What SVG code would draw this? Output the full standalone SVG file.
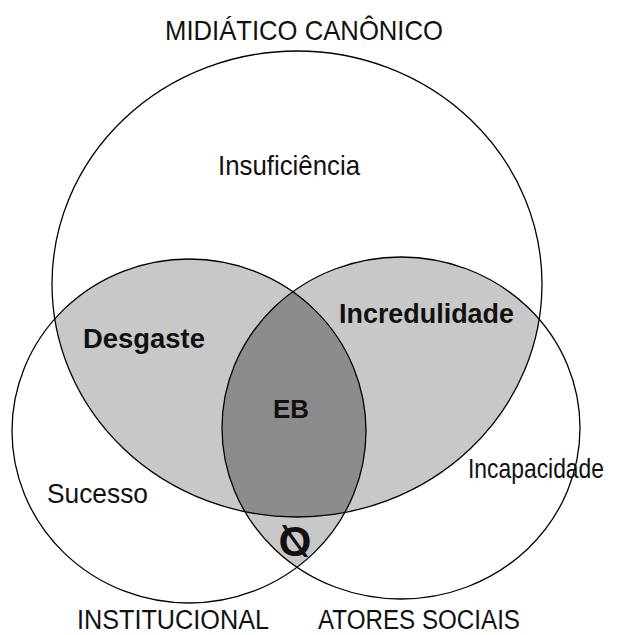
<svg xmlns="http://www.w3.org/2000/svg" width="634" height="635" viewBox="0 0 634 635">
<style>
.edge{fill:none;stroke:#000;stroke-width:1.3}
.light{fill:#c8c8c8}
.dark{fill:#8c8c8c}
.lbl{font-family:"Liberation Sans",Arial,sans-serif;font-size:28px;fill:#111}
.cap{font-size:27px}
.b{font-weight:bold;font-size:27px}
.eb{font-weight:bold;font-size:25px}
.empty{font-weight:bold;font-size:42px}
</style>
<defs>
<clipPath id="cTop"><ellipse cx="297" cy="284" rx="245" ry="233"/></clipPath>
<clipPath id="cLeft"><ellipse cx="189" cy="431" rx="177" ry="172"/></clipPath>
<clipPath id="cRight"><ellipse cx="401" cy="428" rx="179" ry="171"/></clipPath>
</defs>
<rect width="634" height="635" fill="#fff"/>
<g id="regions">
<ellipse class="light" cx="189" cy="431" rx="177" ry="172" clip-path="url(#cTop)"/>
<ellipse class="light" cx="401" cy="428" rx="179" ry="171" clip-path="url(#cTop)"/>
<ellipse class="light" cx="189" cy="431" rx="177" ry="172" clip-path="url(#cRight)"/>
<g clip-path="url(#cTop)"><ellipse class="dark" cx="189" cy="431" rx="177" ry="172" clip-path="url(#cRight)"/></g>
</g>
<g id="midiatico">
<ellipse class="edge" cx="297" cy="284" rx="245" ry="233"/>
<text class="lbl" x="165" y="40" textLength="278" lengthAdjust="spacingAndGlyphs">MIDIÁTICO CANÔNICO</text>
<text class="lbl" x="218" y="175" textLength="142" lengthAdjust="spacingAndGlyphs">Insuficiência</text>
</g>
<g id="institucional">
<ellipse class="edge" cx="189" cy="431" rx="177" ry="172"/>
<text class="lbl cap" x="77" y="629" textLength="192" lengthAdjust="spacingAndGlyphs">INSTITUCIONAL</text>
<text class="lbl" x="47" y="503" textLength="101" lengthAdjust="spacingAndGlyphs">Sucesso</text>
</g>
<g id="atores">
<ellipse class="edge" cx="401" cy="428" rx="179" ry="171"/>
<text class="lbl cap" x="318" y="629" textLength="202" lengthAdjust="spacingAndGlyphs">ATORES SOCIAIS</text>
<text class="lbl" x="468" y="478" textLength="136" lengthAdjust="spacingAndGlyphs">Incapacidade</text>
</g>
<g id="intersections">
<text class="lbl b" x="83" y="348" textLength="122" lengthAdjust="spacingAndGlyphs">Desgaste</text>
<text class="lbl b" x="339" y="323" textLength="175" lengthAdjust="spacingAndGlyphs">Incredulidade</text>
<text class="lbl eb" x="273" y="418" textLength="36" lengthAdjust="spacingAndGlyphs">EB</text>
<text class="lbl empty" x="295" y="556" text-anchor="middle" transform="translate(590,0) scale(-1,1)">Ø</text>
</g>
</svg>
